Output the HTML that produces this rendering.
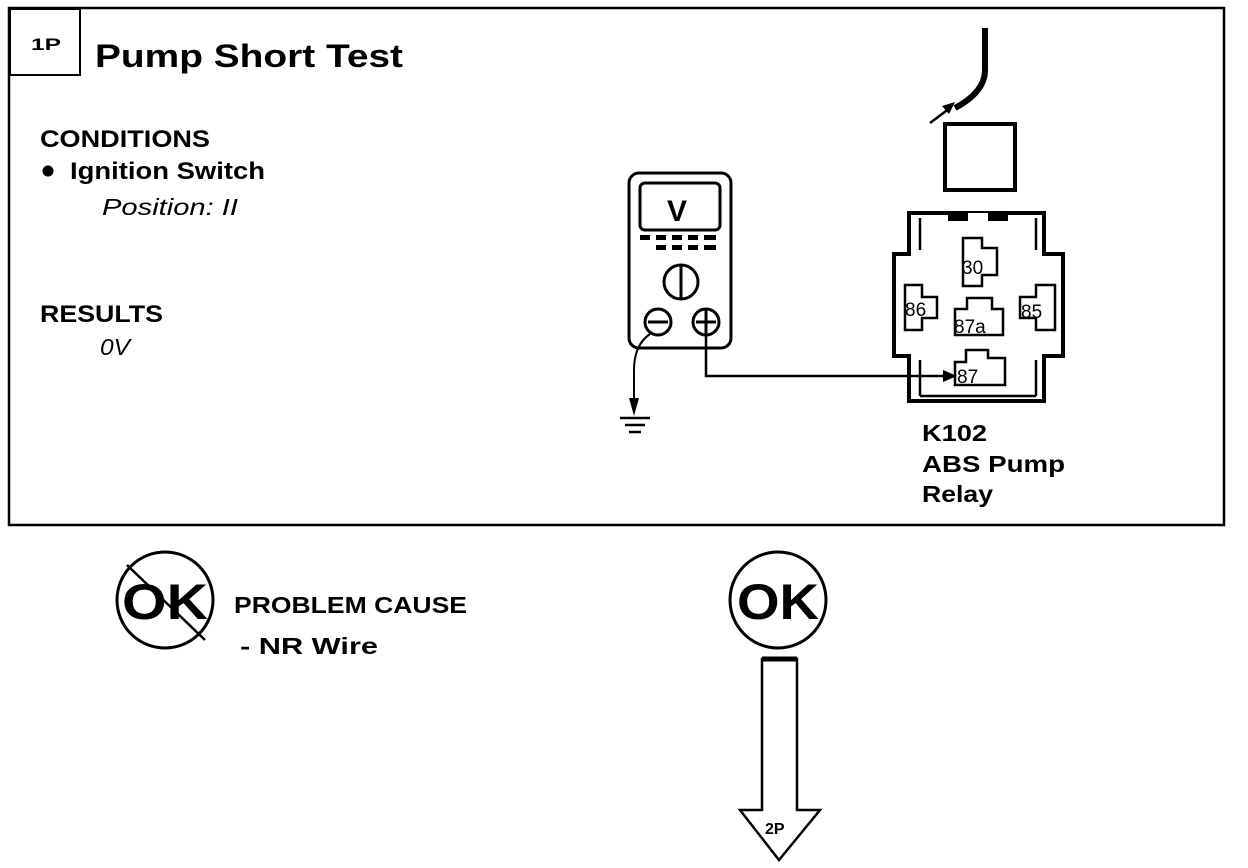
<!DOCTYPE html>
<html><head><style>
html,body{margin:0;padding:0;background:#fff;}
svg{display:block;}
text{font-family:"Liberation Sans",Arial,sans-serif;font-weight:bold;fill:#000;}
</style></head><body>
<svg width="1248" height="868" viewBox="0 0 1248 868" xmlns="http://www.w3.org/2000/svg">
<rect x="9" y="8" width="1215" height="517" fill="none" stroke="#000" stroke-width="2.5"/>
<rect x="10" y="9" width="70" height="66" fill="none" stroke="#000" stroke-width="2"/>
<text x="31" y="50" font-size="17" textLength="30" lengthAdjust="spacingAndGlyphs">1P</text>
<text x="95" y="67" font-size="32" textLength="308" lengthAdjust="spacingAndGlyphs">Pump Short Test</text>
<text x="40" y="147" font-size="24" textLength="170" lengthAdjust="spacingAndGlyphs">CONDITIONS</text>
<circle cx="48" cy="171" r="5.5" fill="#000"/>
<text x="70" y="179" font-size="24" textLength="195" lengthAdjust="spacingAndGlyphs">Ignition Switch</text>
<text x="102" y="215" font-size="23" font-style="italic" style="font-weight:normal" textLength="136" lengthAdjust="spacingAndGlyphs">Position: II</text>
<text x="40" y="322" font-size="24" textLength="123" lengthAdjust="spacingAndGlyphs">RESULTS</text>
<text x="100" y="355" font-size="23" font-style="italic" style="font-weight:normal" textLength="30" lengthAdjust="spacingAndGlyphs">0V</text>

<!-- multimeter -->
<g stroke="#000" fill="none" stroke-width="3">
<rect x="629" y="173" width="102" height="175" rx="10"/>
<rect x="640" y="183" width="80" height="47" rx="5"/>
<circle cx="681" cy="282" r="17"/>
<line x1="681" y1="266" x2="681" y2="298"/>
<circle cx="658" cy="322" r="13"/>
<line x1="648" y1="322" x2="668" y2="322"/>
<circle cx="706" cy="322" r="13"/>
<line x1="696" y1="322" x2="716" y2="322"/><line x1="706" y1="310" x2="706" y2="335"/>
</g>
<text x="667" y="221" font-size="30">V</text>
<g fill="#000">
<rect x="640" y="235" width="10" height="5"/><rect x="656" y="235" width="10" height="5"/><rect x="672" y="235" width="10" height="5"/><rect x="688" y="235" width="10" height="5"/><rect x="704" y="235" width="12" height="5"/>
<rect x="656" y="245" width="10" height="5"/><rect x="672" y="245" width="10" height="5"/><rect x="688" y="245" width="10" height="5"/><rect x="704" y="245" width="12" height="5"/>
</g>
<!-- wires -->
<path d="M706 335 V376 H945" fill="none" stroke="#000" stroke-width="2.5"/>
<polygon points="957,376 943,370 943,382" fill="#000"/>
<path d="M650 334 Q634 345 634 370 V410" fill="none" stroke="#000" stroke-width="2"/>
<polygon points="634,416 629,398 639,398" fill="#000"/>
<g stroke="#000" stroke-width="2.5"><line x1="620" y1="418" x2="650" y2="418"/><line x1="625" y1="425" x2="645" y2="425"/><line x1="629" y1="432" x2="641" y2="432"/></g>

<!-- cable -->
<path d="M985 28 V70 Q985 92 955 108" fill="none" stroke="#000" stroke-width="6"/>
<line x1="930" y1="123" x2="950" y2="108" stroke="#000" stroke-width="2.5"/>
<polygon points="955,102 942,106 949,114" fill="#000"/>
<rect x="945" y="124" width="70" height="66" fill="none" stroke="#000" stroke-width="4"/>

<!-- relay -->
<path d="M909 213 H1044 V254 H1063 V356 H1044 V401 H909 V356 H894 V254 H909 Z" fill="none" stroke="#000" stroke-width="4"/>
<g stroke="#000" stroke-width="2.5" fill="none">
<line x1="920" y1="218" x2="920" y2="250"/><line x1="1036" y1="218" x2="1036" y2="250"/>
<line x1="920" y1="360" x2="920" y2="396"/><line x1="1036" y1="360" x2="1036" y2="396"/>
<line x1="920" y1="396" x2="1036" y2="396"/>
</g>
<rect x="948" y="213" width="60" height="8" fill="#000"/>
<rect x="968" y="213" width="20" height="8" fill="#fff"/>
<g stroke="#000" stroke-width="2.5" fill="none">
<path d="M963 238 H982 V248 H997 V275 H982 V286 H963 Z"/>
<path d="M905 285 H922 V297 H937 V318 H922 V330 H905 Z"/>
<path d="M967 298 H992 V309 H1003 V335 H955 V309 H967 Z"/>
<path d="M1036 285 H1055 V330 H1036 V318 H1020 V297 H1036 Z"/>
<path d="M966 350 H988 V358 H1005 V385 H955 V362 H966 Z"/>
</g>
<g font-size="19">
<text x="962" y="274" style="font-weight:normal">30</text>
<text x="905" y="316" style="font-weight:normal">86</text>
<text x="954" y="333" style="font-weight:normal">87a</text>
<text x="1021" y="318" style="font-weight:normal">85</text>
<text x="957" y="383" style="font-weight:normal">87</text>
</g>
<text x="922" y="441" font-size="23" textLength="65" lengthAdjust="spacingAndGlyphs">K102</text>
<text x="922" y="472" font-size="23" textLength="143" lengthAdjust="spacingAndGlyphs">ABS Pump</text>
<text x="922" y="502" font-size="23" textLength="71" lengthAdjust="spacingAndGlyphs">Relay</text>

<!-- bottom -->
<circle cx="165" cy="600" r="48" fill="none" stroke="#000" stroke-width="3"/>
<text x="122" y="619" font-size="50" textLength="86" lengthAdjust="spacingAndGlyphs">OK</text>
<line x1="127" y1="565" x2="205" y2="640" stroke="#000" stroke-width="2.5"/>
<text x="234" y="613" font-size="23" textLength="233" lengthAdjust="spacingAndGlyphs">PROBLEM CAUSE</text>
<text x="240" y="654" font-size="23" textLength="138" lengthAdjust="spacingAndGlyphs">-  NR  Wire</text>
<circle cx="778" cy="600" r="48" fill="none" stroke="#000" stroke-width="3"/>
<text x="737" y="619" font-size="50" textLength="82" lengthAdjust="spacingAndGlyphs">OK</text>
<path d="M762 659 H797 V810 H820 L779 860 L740 810 H762 Z" fill="none" stroke="#000" stroke-width="2.5"/>
<line x1="762" y1="659" x2="797" y2="659" stroke="#000" stroke-width="5"/>
<text x="765" y="834" font-size="16">2P</text>
</svg>
</body></html>
